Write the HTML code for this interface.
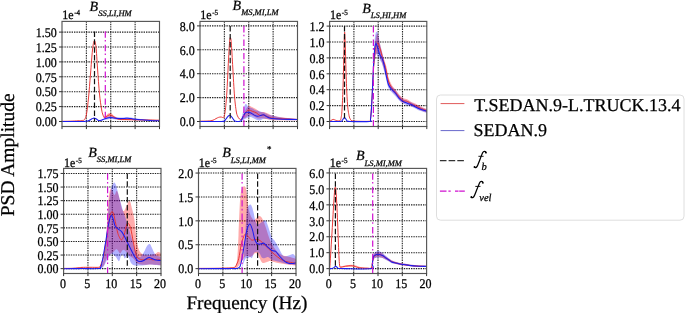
<!DOCTYPE html><html><head><meta charset="utf-8"><style>html,body{margin:0;padding:0;background:#fff;width:685px;height:313px;overflow:hidden}svg{display:block;will-change:transform}</style></head><body><svg width="685" height="313" viewBox="0 0 685 313">
<style>
.g{stroke:#222;stroke-width:1.1;stroke-dasharray:1.4 1.0;fill:none}
.sp{fill:none;stroke:#555;stroke-width:1.15}
.tk{stroke:#333;stroke-width:1}
text{font-family:'Liberation Serif',serif;fill:#000;stroke:#000;stroke-width:0.25px;text-rendering:geometricPrecision}
.tl{font-size:12px}
.sup{font-size:7.1px}
.ti{font-size:14px;font-style:italic}
.sub{font-size:8.5px}
.star{font-size:9px;font-style:normal}
.rl{fill:none;stroke:#e83030;stroke-width:0.95;stroke-linejoin:round}
.bl{fill:none;stroke:#1c1cee;stroke-width:1.05;stroke-linejoin:round}
.rb{fill:#ff0000;fill-opacity:0.33;stroke:none}
.bb{fill:#0000ff;fill-opacity:0.3;stroke:none}
.vb{stroke:#111;stroke-width:1.2;stroke-dasharray:5.5 2.4}
.vm{stroke:#d010d0;stroke-width:1.2;stroke-dasharray:6.4 2.2 1.6 3.2}
</style>
<rect width="685" height="313" fill="#fff"/>
<line x1="86.38" y1="21.40" x2="86.38" y2="126.50" class="g"/>
<line x1="110.75" y1="21.40" x2="110.75" y2="126.50" class="g"/>
<line x1="135.12" y1="21.40" x2="135.12" y2="126.50" class="g"/>
<line x1="62.00" y1="121.50" x2="159.50" y2="121.50" class="g"/>
<line x1="62.00" y1="106.60" x2="159.50" y2="106.60" class="g"/>
<line x1="62.00" y1="91.70" x2="159.50" y2="91.70" class="g"/>
<line x1="62.00" y1="76.80" x2="159.50" y2="76.80" class="g"/>
<line x1="62.00" y1="61.90" x2="159.50" y2="61.90" class="g"/>
<line x1="62.00" y1="47.00" x2="159.50" y2="47.00" class="g"/>
<line x1="62.00" y1="32.10" x2="159.50" y2="32.10" class="g"/>
<line x1="224.38" y1="21.40" x2="224.38" y2="126.50" class="g"/>
<line x1="248.75" y1="21.40" x2="248.75" y2="126.50" class="g"/>
<line x1="273.12" y1="21.40" x2="273.12" y2="126.50" class="g"/>
<line x1="200.00" y1="121.50" x2="297.50" y2="121.50" class="g"/>
<line x1="200.00" y1="97.60" x2="297.50" y2="97.60" class="g"/>
<line x1="200.00" y1="73.70" x2="297.50" y2="73.70" class="g"/>
<line x1="200.00" y1="49.80" x2="297.50" y2="49.80" class="g"/>
<line x1="200.00" y1="25.90" x2="297.50" y2="25.90" class="g"/>
<line x1="353.90" y1="21.40" x2="353.90" y2="126.50" class="g"/>
<line x1="378.20" y1="21.40" x2="378.20" y2="126.50" class="g"/>
<line x1="402.50" y1="21.40" x2="402.50" y2="126.50" class="g"/>
<line x1="329.60" y1="121.50" x2="426.80" y2="121.50" class="g"/>
<line x1="329.60" y1="105.60" x2="426.80" y2="105.60" class="g"/>
<line x1="329.60" y1="89.70" x2="426.80" y2="89.70" class="g"/>
<line x1="329.60" y1="73.80" x2="426.80" y2="73.80" class="g"/>
<line x1="329.60" y1="57.90" x2="426.80" y2="57.90" class="g"/>
<line x1="329.60" y1="42.00" x2="426.80" y2="42.00" class="g"/>
<line x1="329.60" y1="26.10" x2="426.80" y2="26.10" class="g"/>
<line x1="87.95" y1="168.40" x2="87.95" y2="273.50" class="g"/>
<line x1="112.30" y1="168.40" x2="112.30" y2="273.50" class="g"/>
<line x1="136.65" y1="168.40" x2="136.65" y2="273.50" class="g"/>
<line x1="63.60" y1="268.65" x2="161.00" y2="268.65" class="g"/>
<line x1="63.60" y1="255.05" x2="161.00" y2="255.05" class="g"/>
<line x1="63.60" y1="241.45" x2="161.00" y2="241.45" class="g"/>
<line x1="63.60" y1="227.85" x2="161.00" y2="227.85" class="g"/>
<line x1="63.60" y1="214.25" x2="161.00" y2="214.25" class="g"/>
<line x1="63.60" y1="200.65" x2="161.00" y2="200.65" class="g"/>
<line x1="63.60" y1="187.05" x2="161.00" y2="187.05" class="g"/>
<line x1="63.60" y1="173.45" x2="161.00" y2="173.45" class="g"/>
<line x1="222.88" y1="168.40" x2="222.88" y2="273.50" class="g"/>
<line x1="247.25" y1="168.40" x2="247.25" y2="273.50" class="g"/>
<line x1="271.62" y1="168.40" x2="271.62" y2="273.50" class="g"/>
<line x1="198.50" y1="268.65" x2="296.00" y2="268.65" class="g"/>
<line x1="198.50" y1="244.75" x2="296.00" y2="244.75" class="g"/>
<line x1="198.50" y1="220.85" x2="296.00" y2="220.85" class="g"/>
<line x1="198.50" y1="196.95" x2="296.00" y2="196.95" class="g"/>
<line x1="198.50" y1="173.05" x2="296.00" y2="173.05" class="g"/>
<line x1="353.70" y1="168.40" x2="353.70" y2="273.50" class="g"/>
<line x1="378.00" y1="168.40" x2="378.00" y2="273.50" class="g"/>
<line x1="402.30" y1="168.40" x2="402.30" y2="273.50" class="g"/>
<line x1="329.40" y1="268.65" x2="426.60" y2="268.65" class="g"/>
<line x1="329.40" y1="252.70" x2="426.60" y2="252.70" class="g"/>
<line x1="329.40" y1="236.75" x2="426.60" y2="236.75" class="g"/>
<line x1="329.40" y1="220.80" x2="426.60" y2="220.80" class="g"/>
<line x1="329.40" y1="204.85" x2="426.60" y2="204.85" class="g"/>
<line x1="329.40" y1="188.90" x2="426.60" y2="188.90" class="g"/>
<line x1="329.40" y1="172.95" x2="426.60" y2="172.95" class="g"/>
<path d="M103.00,117.00 C103.50,116.75 105.17,116.08 106.00,115.50 C106.83,114.92 107.33,113.92 108.00,113.50 C108.67,113.08 109.33,112.92 110.00,113.00 C110.67,113.08 111.17,113.42 112.00,114.00 C112.83,114.58 113.83,115.78 115.00,116.50 C116.17,117.22 117.33,117.88 119.00,118.30 C120.67,118.72 121.50,118.83 125.00,119.00 C128.50,119.17 134.25,119.17 140.00,119.30 C145.75,119.43 156.25,119.72 159.50,119.80 L159.50,120.60 C156.25,120.55 145.75,120.37 140.00,120.30 C134.25,120.23 128.50,120.25 125.00,120.20 C121.50,120.15 120.67,120.20 119.00,120.00 C117.33,119.80 116.17,119.42 115.00,119.00 C113.83,118.58 112.83,117.83 112.00,117.50 C111.17,117.17 110.67,116.95 110.00,117.00 C109.33,117.05 108.67,117.58 108.00,117.80 C107.33,118.02 106.83,118.35 106.00,118.30 C105.17,118.25 103.50,117.63 103.00,117.50 Z" class="rb"/>
<path d="M101.00,120.00 C101.50,119.75 103.00,119.00 104.00,118.50 C105.00,118.00 106.00,117.37 107.00,117.00 C108.00,116.63 108.83,116.33 110.00,116.30 C111.17,116.27 112.67,116.63 114.00,116.80 C115.33,116.97 116.67,117.18 118.00,117.30 C119.33,117.42 120.50,117.55 122.00,117.50 C123.50,117.45 125.50,117.00 127.00,117.00 C128.50,117.00 129.50,117.25 131.00,117.50 C132.50,117.75 134.17,118.22 136.00,118.50 C137.83,118.78 139.67,118.98 142.00,119.20 C144.33,119.42 147.08,119.62 150.00,119.80 C152.92,119.98 157.92,120.22 159.50,120.30 L159.50,121.10 C157.92,121.05 152.92,120.90 150.00,120.80 C147.08,120.70 144.33,120.60 142.00,120.50 C139.67,120.40 137.83,120.32 136.00,120.20 C134.17,120.08 132.50,119.90 131.00,119.80 C129.50,119.70 128.50,119.60 127.00,119.60 C125.50,119.60 123.50,119.80 122.00,119.80 C120.50,119.80 119.33,119.68 118.00,119.60 C116.67,119.52 115.33,119.40 114.00,119.30 C112.67,119.20 111.17,118.97 110.00,119.00 C108.83,119.03 108.00,119.33 107.00,119.50 C106.00,119.67 105.00,119.83 104.00,120.00 C103.00,120.17 101.50,120.42 101.00,120.50 Z" class="bb"/>
<path d="M62.00,121.30 C63.33,121.28 67.33,121.28 70.00,121.20 C72.67,121.12 76.00,120.92 78.00,120.80 C80.00,120.68 80.92,120.70 82.00,120.50 C83.08,120.30 83.75,120.68 84.50,119.60 C85.25,118.52 85.83,117.60 86.50,114.00 C87.17,110.40 87.83,104.67 88.50,98.00 C89.17,91.33 89.83,82.00 90.50,74.00 C91.17,66.00 91.87,55.55 92.50,50.00 C93.13,44.45 93.72,41.20 94.30,40.70 C94.88,40.20 95.47,42.45 96.00,47.00 C96.53,51.55 96.92,60.17 97.50,68.00 C98.08,75.83 98.83,87.17 99.50,94.00 C100.17,100.83 100.92,105.50 101.50,109.00 C102.08,112.50 102.53,113.62 103.00,115.00 C103.47,116.38 103.80,116.97 104.30,117.30 C104.80,117.63 105.38,117.30 106.00,117.00 C106.62,116.70 107.33,115.87 108.00,115.50 C108.67,115.13 109.33,114.78 110.00,114.80 C110.67,114.82 111.17,115.13 112.00,115.60 C112.83,116.07 114.00,117.03 115.00,117.60 C116.00,118.17 116.83,118.70 118.00,119.00 C119.17,119.30 120.33,119.30 122.00,119.40 C123.67,119.50 125.83,119.53 128.00,119.60 C130.17,119.67 132.17,119.73 135.00,119.80 C137.83,119.87 140.92,119.92 145.00,120.00 C149.08,120.08 157.08,120.25 159.50,120.30" class="rl"/>
<path d="M62.00,121.40 C65.00,121.40 76.00,121.43 80.00,121.40 C84.00,121.37 84.50,121.35 86.00,121.20 C87.50,121.05 88.00,120.90 89.00,120.50 C90.00,120.10 91.17,119.20 92.00,118.80 C92.83,118.40 93.33,118.10 94.00,118.10 C94.67,118.10 95.33,118.45 96.00,118.80 C96.67,119.15 97.42,119.92 98.00,120.20 C98.58,120.48 99.00,120.48 99.50,120.50 C100.00,120.52 100.42,120.47 101.00,120.30 C101.58,120.13 102.17,119.80 103.00,119.50 C103.83,119.20 104.83,118.82 106.00,118.50 C107.17,118.18 108.67,117.68 110.00,117.60 C111.33,117.52 112.67,117.85 114.00,118.00 C115.33,118.15 116.67,118.40 118.00,118.50 C119.33,118.60 120.50,118.65 122.00,118.60 C123.50,118.55 125.50,118.20 127.00,118.20 C128.50,118.20 129.50,118.42 131.00,118.60 C132.50,118.78 134.17,119.10 136.00,119.30 C137.83,119.50 139.67,119.62 142.00,119.80 C144.33,119.98 147.08,120.23 150.00,120.40 C152.92,120.57 157.92,120.73 159.50,120.80" class="bl"/>
<line x1="94.50" y1="31.40" x2="94.50" y2="121.50" class="vb"/>
<line x1="105.30" y1="31.40" x2="105.30" y2="118.00" class="vm"/>
<path d="M241.00,120.00 C241.33,119.33 242.17,117.83 243.00,116.00 C243.83,114.17 244.93,110.67 246.00,109.00 C247.07,107.33 248.40,106.33 249.40,106.00 C250.40,105.67 251.07,106.58 252.00,107.00 C252.93,107.42 254.00,107.92 255.00,108.50 C256.00,109.08 257.17,109.92 258.00,110.50 C258.83,111.08 259.00,111.75 260.00,112.00 C261.00,112.25 262.67,111.75 264.00,112.00 C265.33,112.25 266.67,112.92 268.00,113.50 C269.33,114.08 270.00,114.92 272.00,115.50 C274.00,116.08 277.00,116.55 280.00,117.00 C283.00,117.45 287.08,117.90 290.00,118.20 C292.92,118.50 296.25,118.70 297.50,118.80 L297.50,120.30 C294.58,120.30 284.25,120.35 280.00,120.30 C275.75,120.25 274.33,120.22 272.00,120.00 C269.67,119.78 267.67,119.30 266.00,119.00 C264.33,118.70 263.33,118.28 262.00,118.20 C260.67,118.12 259.17,118.70 258.00,118.50 C256.83,118.30 256.00,117.50 255.00,117.00 C254.00,116.50 252.93,115.83 252.00,115.50 C251.07,115.17 250.40,114.67 249.40,115.00 C248.40,115.33 247.07,116.83 246.00,117.50 C244.93,118.17 243.83,118.50 243.00,119.00 C242.17,119.50 241.33,120.25 241.00,120.50 Z" class="rb"/>
<path d="M240.50,121.00 C240.83,119.83 241.83,116.50 242.50,114.00 C243.17,111.50 243.92,107.65 244.50,106.00 C245.08,104.35 245.42,104.02 246.00,104.10 C246.58,104.18 247.33,105.93 248.00,106.50 C248.67,107.07 249.22,107.18 250.00,107.50 C250.78,107.82 251.87,107.98 252.70,108.40 C253.53,108.82 254.12,109.60 255.00,110.00 C255.88,110.40 256.67,110.42 258.00,110.80 C259.33,111.18 261.67,111.85 263.00,112.30 C264.33,112.75 264.83,113.03 266.00,113.50 C267.17,113.97 267.67,114.47 270.00,115.10 C272.33,115.73 276.67,116.73 280.00,117.30 C283.33,117.87 287.08,118.22 290.00,118.50 C292.92,118.78 296.25,118.92 297.50,119.00 L297.50,120.30 C294.58,120.25 284.58,120.13 280.00,120.00 C275.42,119.87 272.33,119.70 270.00,119.50 C267.67,119.30 267.17,118.88 266.00,118.80 C264.83,118.72 264.00,118.73 263.00,119.00 C262.00,119.27 261.00,120.23 260.00,120.40 C259.00,120.57 258.00,120.32 257.00,120.00 C256.00,119.68 255.00,119.00 254.00,118.50 C253.00,118.00 252.00,117.17 251.00,117.00 C250.00,116.83 249.00,117.17 248.00,117.50 C247.00,117.83 245.92,118.50 245.00,119.00 C244.08,119.50 243.25,120.13 242.50,120.50 C241.75,120.87 240.83,121.08 240.50,121.20 Z" class="bb"/>
<path d="M200.00,121.20 C201.33,121.17 205.83,121.17 208.00,121.00 C210.17,120.83 211.67,120.60 213.00,120.20 C214.33,119.80 215.08,119.07 216.00,118.60 C216.92,118.13 217.67,117.67 218.50,117.40 C219.33,117.13 220.17,116.97 221.00,117.00 C221.83,117.03 222.92,117.93 223.50,117.60 C224.08,117.27 224.17,116.43 224.50,115.00 C224.83,113.57 225.08,113.17 225.50,109.00 C225.92,104.83 226.50,98.17 227.00,90.00 C227.50,81.83 228.07,68.00 228.50,60.00 C228.93,52.00 229.30,45.73 229.60,42.00 C229.90,38.27 230.02,37.43 230.30,37.60 C230.58,37.77 230.88,37.93 231.30,43.00 C231.72,48.07 232.27,59.17 232.80,68.00 C233.33,76.83 233.93,88.83 234.50,96.00 C235.07,103.17 235.70,107.67 236.20,111.00 C236.70,114.33 236.95,114.67 237.50,116.00 C238.05,117.33 238.88,118.43 239.50,119.00 C240.12,119.57 240.65,119.70 241.20,119.40 C241.75,119.10 242.23,118.15 242.80,117.20 C243.37,116.25 243.93,114.70 244.60,113.70 C245.27,112.70 246.08,111.83 246.80,111.20 C247.52,110.57 247.98,109.88 248.90,109.90 C249.82,109.92 251.10,110.83 252.30,111.30 C253.50,111.77 254.83,112.02 256.10,112.70 C257.37,113.38 258.62,115.00 259.90,115.40 C261.18,115.80 262.52,114.90 263.80,115.10 C265.08,115.30 266.33,116.12 267.60,116.60 C268.87,117.08 269.65,117.68 271.40,118.00 C273.15,118.32 275.38,118.33 278.10,118.50 C280.82,118.67 284.47,118.83 287.70,119.00 C290.93,119.17 295.87,119.42 297.50,119.50" class="rl"/>
<path d="M200.00,121.40 C203.67,121.40 218.00,121.43 222.00,121.40 C226.00,121.37 223.33,121.60 224.00,121.20 C224.67,120.80 225.33,119.82 226.00,119.00 C226.67,118.18 227.33,116.93 228.00,116.30 C228.67,115.67 229.33,115.03 230.00,115.20 C230.67,115.37 231.33,116.47 232.00,117.30 C232.67,118.13 233.42,119.53 234.00,120.20 C234.58,120.87 234.50,121.13 235.50,121.30 C236.50,121.47 239.05,121.33 240.00,121.20 C240.95,121.07 240.75,121.12 241.20,120.50 C241.65,119.88 241.98,118.80 242.70,117.50 C243.42,116.20 244.55,113.57 245.50,112.70 C246.45,111.83 247.43,112.22 248.40,112.30 C249.37,112.38 250.33,112.73 251.30,113.20 C252.27,113.67 253.17,114.58 254.20,115.10 C255.23,115.62 256.47,116.22 257.50,116.30 C258.53,116.38 259.43,115.87 260.40,115.60 C261.37,115.33 262.27,114.53 263.30,114.70 C264.33,114.87 265.57,116.05 266.60,116.60 C267.63,117.15 268.05,117.63 269.50,118.00 C270.95,118.37 273.05,118.60 275.30,118.80 C277.55,119.00 279.30,119.07 283.00,119.20 C286.70,119.33 295.08,119.53 297.50,119.60" class="bl"/>
<line x1="230.20" y1="26.10" x2="230.20" y2="121.50" class="vb"/>
<line x1="243.90" y1="26.10" x2="243.90" y2="126.50" class="vm"/>
<path d="M370.00,121.00 C370.42,115.50 371.88,97.83 372.50,88.00 C373.12,78.17 373.28,69.33 373.70,62.00 C374.12,54.67 374.53,48.50 375.00,44.00 C375.47,39.50 376.08,36.67 376.50,35.00 C376.92,33.33 377.17,33.67 377.50,34.00 C377.83,34.33 378.08,35.33 378.50,37.00 C378.92,38.67 379.50,41.83 380.00,44.00 C380.50,46.17 381.00,48.00 381.50,50.00 C382.00,52.00 382.17,53.17 383.00,56.00 C383.83,58.83 385.60,63.50 386.50,67.00 C387.40,70.50 387.57,74.08 388.40,77.00 C389.23,79.92 390.35,82.42 391.50,84.50 C392.65,86.58 394.02,87.83 395.30,89.50 C396.58,91.17 397.92,93.08 399.20,94.50 C400.48,95.92 401.60,97.17 403.00,98.00 C404.40,98.83 406.20,98.83 407.60,99.50 C409.00,100.17 410.12,101.33 411.40,102.00 C412.68,102.67 413.88,102.83 415.30,103.50 C416.72,104.17 417.98,105.08 419.90,106.00 C421.82,106.92 425.65,108.50 426.80,109.00 L426.80,112.50 C425.65,112.08 421.82,110.83 419.90,110.00 C417.98,109.17 416.72,108.17 415.30,107.50 C413.88,106.83 412.68,106.67 411.40,106.00 C410.12,105.33 409.00,104.00 407.60,103.50 C406.20,103.00 404.40,103.67 403.00,103.00 C401.60,102.33 400.48,100.92 399.20,99.50 C397.92,98.08 396.58,96.00 395.30,94.50 C394.02,93.00 392.65,92.08 391.50,90.50 C390.35,88.92 389.23,87.25 388.40,85.00 C387.57,82.75 387.40,80.17 386.50,77.00 C385.60,73.83 383.92,68.83 383.00,66.00 C382.08,63.17 381.62,61.83 381.00,60.00 C380.38,58.17 379.80,56.17 379.30,55.00 C378.80,53.83 378.47,53.17 378.00,53.00 C377.53,52.83 377.00,52.83 376.50,54.00 C376.00,55.17 375.47,57.00 375.00,60.00 C374.53,63.00 374.12,66.67 373.70,72.00 C373.28,77.33 373.12,83.77 372.50,92.00 C371.88,100.23 370.42,116.50 370.00,121.40 Z" class="rb"/>
<path d="M370.00,121.00 C370.25,118.50 371.08,111.83 371.50,106.00 C371.92,100.17 372.17,93.67 372.50,86.00 C372.83,78.33 373.17,67.33 373.50,60.00 C373.83,52.67 374.17,46.33 374.50,42.00 C374.83,37.67 375.17,35.70 375.50,34.00 C375.83,32.30 376.17,32.05 376.50,31.80 C376.83,31.55 377.17,31.80 377.50,32.50 C377.83,33.20 378.08,34.08 378.50,36.00 C378.92,37.92 379.50,41.67 380.00,44.00 C380.50,46.33 380.95,47.83 381.50,50.00 C382.05,52.17 382.53,53.83 383.30,57.00 C384.07,60.17 385.25,65.17 386.10,69.00 C386.95,72.83 387.50,77.17 388.40,80.00 C389.30,82.83 390.35,84.33 391.50,86.00 C392.65,87.67 394.02,88.42 395.30,90.00 C396.58,91.58 397.92,94.00 399.20,95.50 C400.48,97.00 401.60,98.08 403.00,99.00 C404.40,99.92 406.20,100.42 407.60,101.00 C409.00,101.58 410.12,101.92 411.40,102.50 C412.68,103.08 413.88,103.75 415.30,104.50 C416.72,105.25 417.98,106.17 419.90,107.00 C421.82,107.83 425.65,109.08 426.80,109.50 L426.80,113.00 C425.65,112.63 421.82,111.55 419.90,110.80 C417.98,110.05 416.72,109.22 415.30,108.50 C413.88,107.78 412.68,107.00 411.40,106.50 C410.12,106.00 409.00,106.00 407.60,105.50 C406.20,105.00 404.40,104.33 403.00,103.50 C401.60,102.67 400.48,101.75 399.20,100.50 C397.92,99.25 396.58,97.42 395.30,96.00 C394.02,94.58 392.65,93.33 391.50,92.00 C390.35,90.67 389.30,90.17 388.40,88.00 C387.50,85.83 386.95,82.33 386.10,79.00 C385.25,75.67 384.02,70.67 383.30,68.00 C382.58,65.33 382.27,64.17 381.80,63.00 C381.33,61.83 380.97,61.83 380.50,61.00 C380.03,60.17 379.53,59.00 379.00,58.00 C378.47,57.00 377.83,55.67 377.30,55.00 C376.77,54.33 376.25,53.17 375.80,54.00 C375.35,54.83 374.98,56.67 374.60,60.00 C374.22,63.33 373.85,68.00 373.50,74.00 C373.15,80.00 372.83,89.67 372.50,96.00 C372.17,102.33 371.92,107.77 371.50,112.00 C371.08,116.23 370.25,119.83 370.00,121.40 Z" class="bb"/>
<path d="M329.60,121.20 C329.83,121.08 330.40,120.80 331.00,120.50 C331.60,120.20 332.45,119.45 333.20,119.40 C333.95,119.35 334.70,119.93 335.50,120.20 C336.30,120.47 337.25,120.93 338.00,121.00 C338.75,121.07 339.50,121.02 340.00,120.60 C340.50,120.18 340.67,120.27 341.00,118.50 C341.33,116.73 341.67,115.08 342.00,110.00 C342.33,104.92 342.70,96.67 343.00,88.00 C343.30,79.33 343.53,67.28 343.80,58.00 C344.07,48.72 344.33,33.63 344.60,32.30 C344.87,30.97 345.12,42.05 345.40,50.00 C345.68,57.95 345.95,71.00 346.30,80.00 C346.65,89.00 347.05,98.08 347.50,104.00 C347.95,109.92 348.50,112.92 349.00,115.50 C349.50,118.08 350.00,118.62 350.50,119.50 C351.00,120.38 351.08,120.52 352.00,120.80 C352.92,121.08 353.08,121.13 356.00,121.20 C358.92,121.27 367.08,121.57 369.50,121.20 C371.92,120.83 370.17,121.37 370.50,119.00 C370.83,116.63 371.17,112.00 371.50,107.00 C371.83,102.00 372.13,95.83 372.50,89.00 C372.87,82.17 373.28,72.17 373.70,66.00 C374.12,59.83 374.53,55.50 375.00,52.00 C375.47,48.50 376.00,46.50 376.50,45.00 C377.00,43.50 377.53,42.78 378.00,43.00 C378.47,43.22 378.80,44.80 379.30,46.30 C379.80,47.80 380.38,49.72 381.00,52.00 C381.62,54.28 382.42,58.00 383.00,60.00 C383.58,62.00 383.92,62.00 384.50,64.00 C385.08,66.00 385.85,69.17 386.50,72.00 C387.15,74.83 387.57,78.42 388.40,81.00 C389.23,83.58 390.35,85.67 391.50,87.50 C392.65,89.33 394.02,90.42 395.30,92.00 C396.58,93.58 397.92,95.58 399.20,97.00 C400.48,98.42 401.95,99.83 403.00,100.50 C404.05,101.17 404.73,100.83 405.50,101.00 C406.27,101.17 406.62,101.00 407.60,101.50 C408.58,102.00 410.12,103.33 411.40,104.00 C412.68,104.67 413.88,104.83 415.30,105.50 C416.72,106.17 418.62,107.38 419.90,108.00 C421.18,108.62 421.85,108.73 423.00,109.20 C424.15,109.67 426.17,110.53 426.80,110.80" class="rl"/>
<path d="M329.60,121.40 C331.33,121.40 337.93,121.50 340.00,121.40 C342.07,121.30 341.25,121.47 342.00,120.80 C342.75,120.13 343.67,117.40 344.50,117.40 C345.33,117.40 346.08,120.13 347.00,120.80 C347.92,121.47 346.25,121.30 350.00,121.40 C353.75,121.50 366.08,121.72 369.50,121.40 C372.92,121.08 370.17,121.73 370.50,119.50 C370.83,117.27 371.17,113.25 371.50,108.00 C371.83,102.75 372.17,95.00 372.50,88.00 C372.83,81.00 373.15,72.33 373.50,66.00 C373.85,59.67 374.22,53.75 374.60,50.00 C374.98,46.25 375.35,44.08 375.80,43.50 C376.25,42.92 376.77,45.00 377.30,46.50 C377.83,48.00 378.47,50.92 379.00,52.50 C379.53,54.08 380.03,55.17 380.50,56.00 C380.97,56.83 381.33,56.50 381.80,57.50 C382.27,58.50 382.80,60.25 383.30,62.00 C383.80,63.75 384.33,65.83 384.80,68.00 C385.27,70.17 385.50,72.25 386.10,75.00 C386.70,77.75 387.50,82.13 388.40,84.50 C389.30,86.87 390.35,87.78 391.50,89.20 C392.65,90.62 394.02,91.47 395.30,93.00 C396.58,94.53 397.92,97.00 399.20,98.40 C400.48,99.80 401.60,100.57 403.00,101.40 C404.40,102.23 406.20,102.88 407.60,103.40 C409.00,103.92 410.12,103.93 411.40,104.50 C412.68,105.07 413.88,106.03 415.30,106.80 C416.72,107.57 417.98,108.35 419.90,109.10 C421.82,109.85 425.65,110.93 426.80,111.30" class="bl"/>
<line x1="344.50" y1="26.10" x2="344.50" y2="121.50" class="vb"/>
<line x1="373.40" y1="26.10" x2="373.40" y2="126.50" class="vm"/>
<path d="M99.00,267.50 C99.42,267.08 100.67,266.58 101.50,265.00 C102.33,263.42 103.25,262.17 104.00,258.00 C104.75,253.83 105.42,247.17 106.00,240.00 C106.58,232.83 107.03,222.17 107.50,215.00 C107.97,207.83 108.32,201.33 108.80,197.00 C109.28,192.67 109.87,190.17 110.40,189.00 C110.93,187.83 111.32,189.00 112.00,190.00 C112.68,191.00 113.72,194.88 114.50,195.00 C115.28,195.12 116.03,190.70 116.70,190.70 C117.37,190.70 117.87,192.95 118.50,195.00 C119.13,197.05 119.92,200.67 120.50,203.00 C121.08,205.33 121.42,207.67 122.00,209.00 C122.58,210.33 123.27,211.45 124.00,211.00 C124.73,210.55 125.47,208.00 126.40,206.30 C127.33,204.60 128.67,200.40 129.60,200.80 C130.53,201.20 131.22,205.65 132.00,208.70 C132.78,211.75 133.63,214.72 134.30,219.10 C134.97,223.48 135.38,230.35 136.00,235.00 C136.62,239.65 137.17,244.00 138.00,247.00 C138.83,250.00 139.83,251.67 141.00,253.00 C142.17,254.33 143.50,254.67 145.00,255.00 C146.50,255.33 148.33,255.17 150.00,255.00 C151.67,254.83 153.67,254.50 155.00,254.00 C156.33,253.50 157.00,252.17 158.00,252.00 C159.00,251.83 160.50,252.83 161.00,253.00 L161.00,265.50 C160.00,265.38 156.83,264.97 155.00,264.80 C153.17,264.63 152.17,264.50 150.00,264.50 C147.83,264.50 144.17,265.05 142.00,264.80 C139.83,264.55 138.35,263.97 137.00,263.00 C135.65,262.03 135.18,260.23 133.90,259.00 C132.62,257.77 130.63,256.85 129.30,255.60 C127.97,254.35 126.95,252.47 125.90,251.50 C124.85,250.53 123.97,249.50 123.00,249.80 C122.03,250.10 121.15,253.40 120.10,253.30 C119.05,253.20 117.85,249.40 116.70,249.20 C115.55,249.00 114.55,251.03 113.20,252.10 C111.85,253.17 109.80,254.28 108.60,255.60 C107.40,256.92 106.77,258.43 106.00,260.00 C105.23,261.57 104.75,263.75 104.00,265.00 C103.25,266.25 102.33,267.00 101.50,267.50 C100.67,268.00 99.42,267.92 99.00,268.00 Z" class="rb"/>
<path d="M99.00,268.50 C99.42,268.08 100.67,268.08 101.50,266.00 C102.33,263.92 103.25,260.33 104.00,256.00 C104.75,251.67 105.42,245.67 106.00,240.00 C106.58,234.33 107.00,228.17 107.50,222.00 C108.00,215.83 108.50,208.00 109.00,203.00 C109.50,198.00 110.00,194.83 110.50,192.00 C111.00,189.17 111.40,187.60 112.00,186.00 C112.60,184.40 113.43,182.57 114.10,182.40 C114.77,182.23 115.42,183.57 116.00,185.00 C116.58,186.43 116.93,188.50 117.60,191.00 C118.27,193.50 119.20,197.05 120.00,200.00 C120.80,202.95 121.47,205.65 122.40,208.70 C123.33,211.75 124.67,215.42 125.60,218.30 C126.53,221.18 127.10,223.05 128.00,226.00 C128.90,228.95 130.00,232.67 131.00,236.00 C132.00,239.33 133.00,243.00 134.00,246.00 C135.00,249.00 136.00,252.17 137.00,254.00 C138.00,255.83 138.83,257.33 140.00,257.00 C141.17,256.67 142.83,253.83 144.00,252.00 C145.17,250.17 146.03,247.33 147.00,246.00 C147.97,244.67 148.97,243.67 149.80,244.00 C150.63,244.33 151.13,246.33 152.00,248.00 C152.87,249.67 154.00,252.67 155.00,254.00 C156.00,255.33 157.00,255.50 158.00,256.00 C159.00,256.50 160.50,256.83 161.00,257.00 L161.00,265.20 C160.00,265.17 156.83,265.12 155.00,265.00 C153.17,264.88 151.50,264.50 150.00,264.50 C148.50,264.50 147.33,264.83 146.00,265.00 C144.67,265.17 143.50,265.42 142.00,265.50 C140.50,265.58 138.33,265.53 137.00,265.50 C135.67,265.47 135.00,265.72 134.00,265.30 C133.00,264.88 131.83,264.22 131.00,263.00 C130.17,261.78 129.67,259.17 129.00,258.00 C128.33,256.83 127.72,255.93 127.00,256.00 C126.28,256.07 125.37,258.57 124.70,258.40 C124.03,258.23 123.62,255.40 123.00,255.00 C122.38,254.60 121.67,254.95 121.00,256.00 C120.33,257.05 119.83,261.13 119.00,261.30 C118.17,261.47 117.00,258.13 116.00,257.00 C115.00,255.87 113.85,255.00 113.00,254.50 C112.15,254.00 111.73,253.42 110.90,254.00 C110.07,254.58 108.82,256.67 108.00,258.00 C107.18,259.33 106.67,260.67 106.00,262.00 C105.33,263.33 104.75,264.95 104.00,266.00 C103.25,267.05 102.33,267.87 101.50,268.30 C100.67,268.73 99.42,268.55 99.00,268.60 Z" class="bb"/>
<path d="M63.60,268.40 C65.00,268.38 69.60,268.40 72.00,268.30 C74.40,268.20 76.33,267.95 78.00,267.80 C79.67,267.65 80.00,267.48 82.00,267.40 C84.00,267.32 87.20,267.32 90.00,267.30 C92.80,267.28 97.08,267.52 98.80,267.30 C100.52,267.08 99.70,267.15 100.30,266.00 C100.90,264.85 101.80,262.18 102.40,260.40 C103.00,258.62 103.40,257.68 103.90,255.30 C104.40,252.92 104.95,248.82 105.40,246.10 C105.85,243.38 106.13,242.35 106.60,239.00 C107.07,235.65 107.63,229.83 108.20,226.00 C108.77,222.17 109.40,218.38 110.00,216.00 C110.60,213.62 111.22,212.03 111.80,211.70 C112.38,211.37 112.83,211.95 113.50,214.00 C114.17,216.05 115.13,221.00 115.80,224.00 C116.47,227.00 116.95,229.90 117.50,232.00 C118.05,234.10 118.42,235.28 119.10,236.60 C119.78,237.92 120.77,240.17 121.60,239.90 C122.43,239.63 123.27,237.48 124.10,235.00 C124.93,232.52 125.92,226.95 126.60,225.00 C127.28,223.05 127.52,222.75 128.20,223.30 C128.88,223.85 129.87,225.25 130.70,228.30 C131.53,231.35 132.37,237.45 133.20,241.60 C134.03,245.75 134.87,250.43 135.70,253.20 C136.53,255.97 136.95,257.08 138.20,258.20 C139.45,259.32 141.53,259.77 143.20,259.90 C144.87,260.03 146.53,259.00 148.20,259.00 C149.87,259.00 151.68,259.85 153.20,259.90 C154.72,259.95 156.00,259.30 157.30,259.30 C158.60,259.30 160.38,259.80 161.00,259.90" class="rl"/>
<path d="M63.60,268.65 C66.33,268.64 74.13,268.61 80.00,268.60 C85.87,268.59 95.38,268.73 98.80,268.60 C102.22,268.47 99.98,268.73 100.50,267.80 C101.02,266.87 101.42,265.08 101.90,263.00 C102.38,260.92 102.90,258.12 103.40,255.30 C103.90,252.48 104.47,248.65 104.90,246.10 C105.33,243.55 105.57,242.68 106.00,240.00 C106.43,237.32 106.98,233.05 107.50,230.00 C108.02,226.95 108.52,224.08 109.10,221.70 C109.68,219.32 110.35,216.23 111.00,215.70 C111.65,215.17 112.33,216.82 113.00,218.50 C113.67,220.18 114.12,224.03 115.00,225.80 C115.88,227.57 117.20,228.13 118.30,229.10 C119.40,230.07 120.63,230.48 121.60,231.60 C122.57,232.72 123.13,234.00 124.10,235.80 C125.07,237.60 126.30,240.18 127.40,242.40 C128.50,244.62 129.58,246.88 130.70,249.10 C131.82,251.32 132.98,253.77 134.10,255.70 C135.22,257.63 136.42,259.73 137.40,260.70 C138.38,261.67 139.03,261.50 140.00,261.50 C140.97,261.50 142.20,261.12 143.20,260.70 C144.20,260.28 145.03,259.55 146.00,259.00 C146.97,258.45 147.80,257.40 149.00,257.40 C150.20,257.40 152.03,258.57 153.20,259.00 C154.37,259.43 154.90,259.77 156.00,260.00 C157.10,260.23 158.97,260.33 159.80,260.40 C160.63,260.47 160.80,260.40 161.00,260.40" class="bl"/>
<line x1="127.30" y1="173.40" x2="127.30" y2="268.65" class="vb"/>
<line x1="107.60" y1="173.40" x2="107.60" y2="273.50" class="vm"/>
<path d="M233.00,268.50 C233.50,268.08 235.25,268.25 236.00,266.00 C236.75,263.75 237.08,260.17 237.50,255.00 C237.92,249.83 238.17,242.50 238.50,235.00 C238.83,227.50 239.17,216.67 239.50,210.00 C239.83,203.33 240.08,198.67 240.50,195.00 C240.92,191.33 241.50,189.42 242.00,188.00 C242.50,186.58 243.03,186.77 243.50,186.50 C243.97,186.23 244.38,185.98 244.80,186.40 C245.22,186.82 245.63,187.40 246.00,189.00 C246.37,190.60 246.67,193.17 247.00,196.00 C247.33,198.83 247.50,203.00 248.00,206.00 C248.50,209.00 249.33,212.00 250.00,214.00 C250.67,216.00 251.33,217.00 252.00,218.00 C252.67,219.00 253.20,220.10 254.00,220.00 C254.80,219.90 256.05,218.07 256.80,217.40 C257.55,216.73 257.83,216.13 258.50,216.00 C259.17,215.87 260.02,215.83 260.80,216.60 C261.58,217.37 262.33,218.70 263.20,220.60 C264.07,222.50 264.87,224.77 266.00,228.00 C267.13,231.23 268.50,236.50 270.00,240.00 C271.50,243.50 273.33,246.67 275.00,249.00 C276.67,251.33 278.33,252.83 280.00,254.00 C281.67,255.17 283.33,255.50 285.00,256.00 C286.67,256.50 288.17,256.50 290.00,257.00 C291.83,257.50 295.00,258.67 296.00,259.00 L296.00,265.50 C295.00,265.42 292.00,265.25 290.00,265.00 C288.00,264.75 286.00,264.33 284.00,264.00 C282.00,263.67 279.67,263.33 278.00,263.00 C276.33,262.67 275.33,262.33 274.00,262.00 C272.67,261.67 271.17,261.00 270.00,261.00 C268.83,261.00 268.00,261.67 267.00,262.00 C266.00,262.33 264.83,262.93 264.00,263.00 C263.17,263.07 262.67,263.07 262.00,262.40 C261.33,261.73 260.67,260.23 260.00,259.00 C259.33,257.77 258.67,256.00 258.00,255.00 C257.33,254.00 256.67,253.17 256.00,253.00 C255.33,252.83 254.67,253.50 254.00,254.00 C253.33,254.50 252.67,255.50 252.00,256.00 C251.33,256.50 250.67,257.00 250.00,257.00 C249.33,257.00 248.67,256.17 248.00,256.00 C247.33,255.83 246.67,255.67 246.00,256.00 C245.33,256.33 244.67,257.17 244.00,258.00 C243.33,258.83 242.67,260.00 242.00,261.00 C241.33,262.00 240.67,263.08 240.00,264.00 C239.33,264.92 238.67,265.77 238.00,266.50 C237.33,267.23 236.83,268.05 236.00,268.40 C235.17,268.75 233.50,268.57 233.00,268.60 Z" class="rb"/>
<path d="M240.00,268.60 C240.33,268.17 241.42,267.77 242.00,266.00 C242.58,264.23 243.00,262.33 243.50,258.00 C244.00,253.67 244.58,246.00 245.00,240.00 C245.42,234.00 245.67,227.00 246.00,222.00 C246.33,217.00 246.67,212.63 247.00,210.00 C247.33,207.37 247.43,207.10 248.00,206.20 C248.57,205.30 249.73,204.47 250.40,204.60 C251.07,204.73 251.47,205.67 252.00,207.00 C252.53,208.33 253.07,210.33 253.60,212.60 C254.13,214.87 254.63,218.70 255.20,220.60 C255.77,222.50 256.37,223.43 257.00,224.00 C257.63,224.57 258.17,224.33 259.00,224.00 C259.83,223.67 260.90,222.57 262.00,222.00 C263.10,221.43 264.73,220.30 265.60,220.60 C266.47,220.90 266.67,222.48 267.20,223.80 C267.73,225.12 268.27,226.92 268.80,228.50 C269.33,230.08 269.87,231.72 270.40,233.30 C270.93,234.88 271.32,236.78 272.00,238.00 C272.68,239.22 273.42,239.02 274.50,240.60 C275.58,242.18 277.08,245.02 278.50,247.50 C279.92,249.98 281.58,254.08 283.00,255.50 C284.42,256.92 285.83,256.08 287.00,256.00 C288.17,255.92 289.00,255.33 290.00,255.00 C291.00,254.67 292.00,253.67 293.00,254.00 C294.00,254.33 295.50,256.50 296.00,257.00 L296.00,265.00 C295.00,264.92 291.83,264.75 290.00,264.50 C288.17,264.25 286.67,263.92 285.00,263.50 C283.33,263.08 281.50,262.42 280.00,262.00 C278.50,261.58 277.33,261.33 276.00,261.00 C274.67,260.67 273.33,260.67 272.00,260.00 C270.67,259.33 269.17,257.33 268.00,257.00 C266.83,256.67 266.00,257.87 265.00,258.00 C264.00,258.13 262.83,258.47 262.00,257.80 C261.17,257.13 260.67,254.97 260.00,254.00 C259.33,253.03 258.67,252.33 258.00,252.00 C257.33,251.67 256.67,251.83 256.00,252.00 C255.33,252.17 254.67,252.00 254.00,253.00 C253.33,254.00 252.67,257.33 252.00,258.00 C251.33,258.67 250.67,256.93 250.00,257.00 C249.33,257.07 248.67,258.23 248.00,258.40 C247.33,258.57 246.67,257.40 246.00,258.00 C245.33,258.60 244.67,260.50 244.00,262.00 C243.33,263.50 242.67,265.90 242.00,267.00 C241.33,268.10 240.33,268.33 240.00,268.60 Z" class="bb"/>
<path d="M198.50,268.40 C201.25,268.38 210.58,268.35 215.00,268.30 C219.42,268.25 222.33,268.18 225.00,268.10 C227.67,268.02 229.38,267.93 231.00,267.80 C232.62,267.67 233.73,267.93 234.70,267.30 C235.67,266.67 236.12,265.50 236.80,264.00 C237.48,262.50 238.07,261.50 238.80,258.30 C239.53,255.10 240.40,248.38 241.20,244.80 C242.00,241.22 242.88,238.58 243.60,236.80 C244.32,235.02 244.70,234.10 245.50,234.10 C246.30,234.10 247.38,235.82 248.40,236.80 C249.42,237.78 250.58,239.52 251.60,240.00 C252.62,240.48 253.37,239.77 254.50,239.70 C255.63,239.63 257.15,239.17 258.40,239.60 C259.65,240.03 260.63,241.08 262.00,242.30 C263.37,243.52 264.92,245.23 266.60,246.90 C268.28,248.57 270.28,250.63 272.10,252.30 C273.92,253.97 275.68,255.53 277.50,256.90 C279.32,258.27 281.17,259.65 283.00,260.50 C284.83,261.35 286.33,261.53 288.50,262.00 C290.67,262.47 294.75,263.08 296.00,263.30" class="rl"/>
<path d="M198.50,268.65 C203.75,268.64 223.58,268.64 230.00,268.60 C236.42,268.56 235.33,268.75 237.00,268.40 C238.67,268.05 239.17,268.18 240.00,266.50 C240.83,264.82 241.27,262.05 242.00,258.30 C242.73,254.55 243.60,248.65 244.40,244.00 C245.20,239.35 245.92,233.73 246.80,230.40 C247.68,227.07 248.77,224.13 249.70,224.00 C250.63,223.87 251.60,227.18 252.40,229.60 C253.20,232.02 253.82,236.28 254.50,238.50 C255.18,240.72 255.83,241.98 256.50,242.90 C257.17,243.82 257.88,243.80 258.50,244.00 C259.12,244.20 259.30,244.23 260.20,244.10 C261.10,243.97 262.68,242.73 263.90,243.20 C265.12,243.67 266.13,245.68 267.50,246.90 C268.87,248.12 270.73,249.75 272.10,250.50 C273.47,251.25 274.48,250.48 275.70,251.40 C276.92,252.32 277.88,254.33 279.40,256.00 C280.92,257.67 283.28,260.18 284.80,261.40 C286.32,262.62 287.30,262.95 288.50,263.30 C289.70,263.65 290.75,263.58 292.00,263.50 C293.25,263.42 295.33,262.92 296.00,262.80" class="bl"/>
<line x1="257.60" y1="173.40" x2="257.60" y2="268.65" class="vb"/>
<line x1="242.10" y1="173.40" x2="242.10" y2="273.50" class="vm"/>
<path d="M339.50,266.50 C340.25,266.38 342.12,266.10 344.00,265.80 C345.88,265.50 348.80,264.75 350.80,264.70 C352.80,264.65 354.13,265.07 356.00,265.50 C357.87,265.93 359.50,266.97 362.00,267.30 C364.50,267.63 369.25,268.55 371.00,267.50 C372.75,266.45 372.08,263.08 372.50,261.00 C372.92,258.92 373.08,256.33 373.50,255.00 C373.92,253.67 374.25,253.45 375.00,253.00 C375.75,252.55 377.00,252.38 378.00,252.30 C379.00,252.22 380.00,252.05 381.00,252.50 C382.00,252.95 382.83,254.08 384.00,255.00 C385.17,255.92 386.67,257.08 388.00,258.00 C389.33,258.92 390.67,259.83 392.00,260.50 C393.33,261.17 394.67,261.58 396.00,262.00 C397.33,262.42 398.67,262.73 400.00,263.00 C401.33,263.27 402.33,263.33 404.00,263.60 C405.67,263.87 408.00,264.33 410.00,264.60 C412.00,264.87 413.23,265.00 416.00,265.20 C418.77,265.40 424.83,265.70 426.60,265.80 L426.60,267.00 C424.83,266.97 418.77,266.92 416.00,266.80 C413.23,266.68 412.00,266.52 410.00,266.30 C408.00,266.08 405.67,265.75 404.00,265.50 C402.33,265.25 401.33,265.05 400.00,264.80 C398.67,264.55 397.33,264.33 396.00,264.00 C394.67,263.67 393.33,263.33 392.00,262.80 C390.67,262.27 389.33,261.52 388.00,260.80 C386.67,260.08 385.17,259.05 384.00,258.50 C382.83,257.95 382.00,257.75 381.00,257.50 C380.00,257.25 379.00,256.92 378.00,257.00 C377.00,257.08 375.75,257.50 375.00,258.00 C374.25,258.50 373.92,259.00 373.50,260.00 C373.08,261.00 372.92,262.60 372.50,264.00 C372.08,265.40 372.75,267.67 371.00,268.40 C369.25,269.13 364.50,268.63 362.00,268.40 C359.50,268.17 357.87,267.28 356.00,267.00 C354.13,266.72 352.80,266.67 350.80,266.70 C348.80,266.73 345.88,267.07 344.00,267.20 C342.12,267.33 340.25,267.45 339.50,267.50 Z" class="rb"/>
<path d="M371.00,268.60 C371.22,267.50 371.88,264.43 372.30,262.00 C372.72,259.57 372.97,255.67 373.50,254.00 C374.03,252.33 374.75,252.50 375.50,252.00 C376.25,251.50 377.17,251.03 378.00,251.00 C378.83,250.97 379.73,251.47 380.50,251.80 C381.27,252.13 381.68,252.30 382.60,253.00 C383.52,253.70 384.93,255.08 386.00,256.00 C387.07,256.92 388.05,257.75 389.00,258.50 C389.95,259.25 390.53,259.92 391.70,260.50 C392.87,261.08 394.62,261.58 396.00,262.00 C397.38,262.42 398.68,262.73 400.00,263.00 C401.32,263.27 402.23,263.33 403.90,263.60 C405.57,263.87 407.98,264.32 410.00,264.60 C412.02,264.88 413.23,265.12 416.00,265.30 C418.77,265.48 424.83,265.63 426.60,265.70 L426.60,267.10 C424.83,267.07 418.77,267.05 416.00,266.90 C413.23,266.75 412.02,266.42 410.00,266.20 C407.98,265.98 405.57,265.80 403.90,265.60 C402.23,265.40 401.32,265.27 400.00,265.00 C398.68,264.73 397.38,264.30 396.00,264.00 C394.62,263.70 392.87,263.62 391.70,263.20 C390.53,262.78 389.95,262.03 389.00,261.50 C388.05,260.97 387.07,260.58 386.00,260.00 C384.93,259.42 383.52,258.37 382.60,258.00 C381.68,257.63 381.27,257.88 380.50,257.80 C379.73,257.72 378.83,257.47 378.00,257.50 C377.17,257.53 376.25,257.75 375.50,258.00 C374.75,258.25 374.03,257.67 373.50,259.00 C372.97,260.33 372.72,264.40 372.30,266.00 C371.88,267.60 371.22,268.17 371.00,268.60 Z" class="bb"/>
<path d="M329.40,268.30 C329.48,268.00 329.67,269.22 329.90,266.50 C330.13,263.78 330.48,257.08 330.80,252.00 C331.12,246.92 331.47,241.50 331.80,236.00 C332.13,230.50 332.47,224.67 332.80,219.00 C333.13,213.33 333.48,206.83 333.80,202.00 C334.12,197.17 334.45,192.50 334.70,190.00 C334.95,187.50 335.10,187.00 335.30,187.00 C335.50,187.00 335.65,187.17 335.90,190.00 C336.15,192.83 336.52,198.67 336.80,204.00 C337.08,209.33 337.33,215.50 337.60,222.00 C337.87,228.50 338.15,236.83 338.40,243.00 C338.65,249.17 338.87,255.12 339.10,259.00 C339.33,262.88 339.48,264.93 339.80,266.30 C340.12,267.67 340.30,267.17 341.00,267.20 C341.70,267.23 343.00,266.70 344.00,266.50 C345.00,266.30 345.87,266.13 347.00,266.00 C348.13,265.87 349.63,265.67 350.80,265.70 C351.97,265.73 352.80,265.90 354.00,266.20 C355.20,266.50 356.67,267.20 358.00,267.50 C359.33,267.80 360.33,267.88 362.00,268.00 C363.67,268.12 366.47,268.20 368.00,268.20 C369.53,268.20 370.45,269.03 371.20,268.00 C371.95,266.97 372.12,263.75 372.50,262.00 C372.88,260.25 373.08,258.58 373.50,257.50 C373.92,256.42 374.42,256.00 375.00,255.50 C375.58,255.00 376.33,254.70 377.00,254.50 C377.67,254.30 378.33,254.25 379.00,254.30 C379.67,254.35 380.33,254.52 381.00,254.80 C381.67,255.08 382.17,255.43 383.00,256.00 C383.83,256.57 385.00,257.53 386.00,258.20 C387.00,258.87 388.00,259.40 389.00,260.00 C390.00,260.60 390.83,261.30 392.00,261.80 C393.17,262.30 394.67,262.63 396.00,263.00 C397.33,263.37 398.67,263.73 400.00,264.00 C401.33,264.27 402.33,264.35 404.00,264.60 C405.67,264.85 408.00,265.27 410.00,265.50 C412.00,265.73 413.23,265.85 416.00,266.00 C418.77,266.15 424.83,266.33 426.60,266.40" class="rl"/>
<path d="M329.40,268.60 C329.83,268.58 331.23,268.67 332.00,268.50 C332.77,268.33 333.37,267.97 334.00,267.60 C334.63,267.23 335.22,266.27 335.80,266.30 C336.38,266.33 336.97,267.43 337.50,267.80 C338.03,268.17 337.75,268.37 339.00,268.50 C340.25,268.63 339.67,268.58 345.00,268.60 C350.33,268.62 366.45,269.37 371.00,268.60 C375.55,267.83 371.88,266.02 372.30,264.00 C372.72,261.98 372.97,258.00 373.50,256.50 C374.03,255.00 374.75,255.37 375.50,255.00 C376.25,254.63 377.17,254.33 378.00,254.30 C378.83,254.27 379.73,254.60 380.50,254.80 C381.27,255.00 381.68,254.97 382.60,255.50 C383.52,256.03 384.93,257.25 386.00,258.00 C387.07,258.75 388.05,259.35 389.00,260.00 C389.95,260.65 390.53,261.40 391.70,261.90 C392.87,262.40 394.62,262.65 396.00,263.00 C397.38,263.35 398.68,263.73 400.00,264.00 C401.32,264.27 402.23,264.37 403.90,264.60 C405.57,264.83 407.98,265.15 410.00,265.40 C412.02,265.65 413.23,265.93 416.00,266.10 C418.77,266.27 424.83,266.35 426.60,266.40" class="bl"/>
<line x1="335.40" y1="173.40" x2="335.40" y2="268.65" class="vb"/>
<line x1="372.70" y1="173.40" x2="372.70" y2="273.50" class="vm"/>
<rect x="62.00" y="21.40" width="97.50" height="105.10" class="sp"/>
<line x1="59.00" y1="121.50" x2="62.00" y2="121.50" class="tk"/>
<text transform="translate(56.80,126.20) scale(1,1.1)" class="tl" text-anchor="end">0.00</text>
<line x1="59.00" y1="106.60" x2="62.00" y2="106.60" class="tk"/>
<text transform="translate(56.80,111.30) scale(1,1.1)" class="tl" text-anchor="end">0.25</text>
<line x1="59.00" y1="91.70" x2="62.00" y2="91.70" class="tk"/>
<text transform="translate(56.80,96.40) scale(1,1.1)" class="tl" text-anchor="end">0.50</text>
<line x1="59.00" y1="76.80" x2="62.00" y2="76.80" class="tk"/>
<text transform="translate(56.80,81.50) scale(1,1.1)" class="tl" text-anchor="end">0.75</text>
<line x1="59.00" y1="61.90" x2="62.00" y2="61.90" class="tk"/>
<text transform="translate(56.80,66.60) scale(1,1.1)" class="tl" text-anchor="end">1.00</text>
<line x1="59.00" y1="47.00" x2="62.00" y2="47.00" class="tk"/>
<text transform="translate(56.80,51.70) scale(1,1.1)" class="tl" text-anchor="end">1.25</text>
<line x1="59.00" y1="32.10" x2="62.00" y2="32.10" class="tk"/>
<text transform="translate(56.80,36.80) scale(1,1.1)" class="tl" text-anchor="end">1.50</text>
<line x1="62.00" y1="126.50" x2="62.00" y2="129.10" class="tk"/>
<line x1="86.38" y1="126.50" x2="86.38" y2="129.10" class="tk"/>
<line x1="110.75" y1="126.50" x2="110.75" y2="129.10" class="tk"/>
<line x1="135.12" y1="126.50" x2="135.12" y2="129.10" class="tk"/>
<line x1="159.50" y1="126.50" x2="159.50" y2="129.10" class="tk"/>
<text transform="translate(62.30,18.80) scale(1,1.08)" class="tl">1e<tspan class="sup" dx="0.6" dy="-3.7">-4</tspan></text>
<text x="89.60" y="10.90" class="ti">B<tspan class="sub" dy="5.2">SS,LI,HM</tspan></text>
<rect x="200.00" y="21.40" width="97.50" height="105.10" class="sp"/>
<line x1="197.00" y1="121.50" x2="200.00" y2="121.50" class="tk"/>
<text transform="translate(194.80,126.20) scale(1,1.1)" class="tl" text-anchor="end">0.0</text>
<line x1="197.00" y1="97.60" x2="200.00" y2="97.60" class="tk"/>
<text transform="translate(194.80,102.30) scale(1,1.1)" class="tl" text-anchor="end">2.0</text>
<line x1="197.00" y1="73.70" x2="200.00" y2="73.70" class="tk"/>
<text transform="translate(194.80,78.40) scale(1,1.1)" class="tl" text-anchor="end">4.0</text>
<line x1="197.00" y1="49.80" x2="200.00" y2="49.80" class="tk"/>
<text transform="translate(194.80,54.50) scale(1,1.1)" class="tl" text-anchor="end">6.0</text>
<line x1="197.00" y1="25.90" x2="200.00" y2="25.90" class="tk"/>
<text transform="translate(194.80,30.60) scale(1,1.1)" class="tl" text-anchor="end">8.0</text>
<line x1="200.00" y1="126.50" x2="200.00" y2="129.10" class="tk"/>
<line x1="224.38" y1="126.50" x2="224.38" y2="129.10" class="tk"/>
<line x1="248.75" y1="126.50" x2="248.75" y2="129.10" class="tk"/>
<line x1="273.12" y1="126.50" x2="273.12" y2="129.10" class="tk"/>
<line x1="297.50" y1="126.50" x2="297.50" y2="129.10" class="tk"/>
<text transform="translate(200.30,18.80) scale(1,1.08)" class="tl">1e<tspan class="sup" dx="0.6" dy="-3.7">-5</tspan></text>
<text x="232.60" y="9.60" class="ti">B<tspan class="sub" dy="5.2">MS,MI,LM</tspan></text>
<rect x="329.60" y="21.40" width="97.20" height="105.10" class="sp"/>
<line x1="326.60" y1="121.50" x2="329.60" y2="121.50" class="tk"/>
<text transform="translate(324.40,126.20) scale(1,1.1)" class="tl" text-anchor="end">0.0</text>
<line x1="326.60" y1="105.60" x2="329.60" y2="105.60" class="tk"/>
<text transform="translate(324.40,110.30) scale(1,1.1)" class="tl" text-anchor="end">0.2</text>
<line x1="326.60" y1="89.70" x2="329.60" y2="89.70" class="tk"/>
<text transform="translate(324.40,94.40) scale(1,1.1)" class="tl" text-anchor="end">0.4</text>
<line x1="326.60" y1="73.80" x2="329.60" y2="73.80" class="tk"/>
<text transform="translate(324.40,78.50) scale(1,1.1)" class="tl" text-anchor="end">0.6</text>
<line x1="326.60" y1="57.90" x2="329.60" y2="57.90" class="tk"/>
<text transform="translate(324.40,62.60) scale(1,1.1)" class="tl" text-anchor="end">0.8</text>
<line x1="326.60" y1="42.00" x2="329.60" y2="42.00" class="tk"/>
<text transform="translate(324.40,46.70) scale(1,1.1)" class="tl" text-anchor="end">1.0</text>
<line x1="326.60" y1="26.10" x2="329.60" y2="26.10" class="tk"/>
<text transform="translate(324.40,30.80) scale(1,1.1)" class="tl" text-anchor="end">1.2</text>
<line x1="329.60" y1="126.50" x2="329.60" y2="129.10" class="tk"/>
<line x1="353.90" y1="126.50" x2="353.90" y2="129.10" class="tk"/>
<line x1="378.20" y1="126.50" x2="378.20" y2="129.10" class="tk"/>
<line x1="402.50" y1="126.50" x2="402.50" y2="129.10" class="tk"/>
<line x1="426.80" y1="126.50" x2="426.80" y2="129.10" class="tk"/>
<text transform="translate(329.90,18.80) scale(1,1.08)" class="tl">1e<tspan class="sup" dx="0.6" dy="-3.7">-5</tspan></text>
<text x="362.30" y="13.10" class="ti">B<tspan class="sub" dy="5.2">LS,HI,HM</tspan></text>
<rect x="63.60" y="168.40" width="97.40" height="105.10" class="sp"/>
<line x1="60.60" y1="268.65" x2="63.60" y2="268.65" class="tk"/>
<text transform="translate(58.40,273.35) scale(1,1.1)" class="tl" text-anchor="end">0.00</text>
<line x1="60.60" y1="255.05" x2="63.60" y2="255.05" class="tk"/>
<text transform="translate(58.40,259.75) scale(1,1.1)" class="tl" text-anchor="end">0.25</text>
<line x1="60.60" y1="241.45" x2="63.60" y2="241.45" class="tk"/>
<text transform="translate(58.40,246.15) scale(1,1.1)" class="tl" text-anchor="end">0.50</text>
<line x1="60.60" y1="227.85" x2="63.60" y2="227.85" class="tk"/>
<text transform="translate(58.40,232.55) scale(1,1.1)" class="tl" text-anchor="end">0.75</text>
<line x1="60.60" y1="214.25" x2="63.60" y2="214.25" class="tk"/>
<text transform="translate(58.40,218.95) scale(1,1.1)" class="tl" text-anchor="end">1.00</text>
<line x1="60.60" y1="200.65" x2="63.60" y2="200.65" class="tk"/>
<text transform="translate(58.40,205.35) scale(1,1.1)" class="tl" text-anchor="end">1.25</text>
<line x1="60.60" y1="187.05" x2="63.60" y2="187.05" class="tk"/>
<text transform="translate(58.40,191.75) scale(1,1.1)" class="tl" text-anchor="end">1.50</text>
<line x1="60.60" y1="173.45" x2="63.60" y2="173.45" class="tk"/>
<text transform="translate(58.40,178.15) scale(1,1.1)" class="tl" text-anchor="end">1.75</text>
<line x1="63.60" y1="273.50" x2="63.60" y2="276.10" class="tk"/>
<text transform="translate(63.00,287.90) scale(1,1.1)" class="tl" text-anchor="middle">0</text>
<line x1="87.95" y1="273.50" x2="87.95" y2="276.10" class="tk"/>
<text transform="translate(87.35,287.90) scale(1,1.1)" class="tl" text-anchor="middle">5</text>
<line x1="112.30" y1="273.50" x2="112.30" y2="276.10" class="tk"/>
<text transform="translate(111.30,287.90) scale(1,1.1)" class="tl" text-anchor="middle">10</text>
<line x1="136.65" y1="273.50" x2="136.65" y2="276.10" class="tk"/>
<text transform="translate(135.65,287.90) scale(1,1.1)" class="tl" text-anchor="middle">15</text>
<line x1="161.00" y1="273.50" x2="161.00" y2="276.10" class="tk"/>
<text transform="translate(160.00,287.90) scale(1,1.1)" class="tl" text-anchor="middle">20</text>
<text transform="translate(63.90,167.20) scale(1,1.08)" class="tl">1e<tspan class="sup" dx="0.6" dy="-3.7">-5</tspan></text>
<text x="88.20" y="156.80" class="ti">B<tspan class="sub" dy="5.2">SS,MI,LM</tspan></text>
<rect x="198.50" y="168.40" width="97.50" height="105.10" class="sp"/>
<line x1="195.50" y1="268.65" x2="198.50" y2="268.65" class="tk"/>
<text transform="translate(193.30,273.35) scale(1,1.1)" class="tl" text-anchor="end">0.0</text>
<line x1="195.50" y1="244.75" x2="198.50" y2="244.75" class="tk"/>
<text transform="translate(193.30,249.45) scale(1,1.1)" class="tl" text-anchor="end">0.5</text>
<line x1="195.50" y1="220.85" x2="198.50" y2="220.85" class="tk"/>
<text transform="translate(193.30,225.55) scale(1,1.1)" class="tl" text-anchor="end">1.0</text>
<line x1="195.50" y1="196.95" x2="198.50" y2="196.95" class="tk"/>
<text transform="translate(193.30,201.65) scale(1,1.1)" class="tl" text-anchor="end">1.5</text>
<line x1="195.50" y1="173.05" x2="198.50" y2="173.05" class="tk"/>
<text transform="translate(193.30,177.75) scale(1,1.1)" class="tl" text-anchor="end">2.0</text>
<line x1="198.50" y1="273.50" x2="198.50" y2="276.10" class="tk"/>
<text transform="translate(197.90,287.90) scale(1,1.1)" class="tl" text-anchor="middle">0</text>
<line x1="222.88" y1="273.50" x2="222.88" y2="276.10" class="tk"/>
<text transform="translate(222.28,287.90) scale(1,1.1)" class="tl" text-anchor="middle">5</text>
<line x1="247.25" y1="273.50" x2="247.25" y2="276.10" class="tk"/>
<text transform="translate(246.25,287.90) scale(1,1.1)" class="tl" text-anchor="middle">10</text>
<line x1="271.62" y1="273.50" x2="271.62" y2="276.10" class="tk"/>
<text transform="translate(270.62,287.90) scale(1,1.1)" class="tl" text-anchor="middle">15</text>
<line x1="296.00" y1="273.50" x2="296.00" y2="276.10" class="tk"/>
<text transform="translate(295.00,287.90) scale(1,1.1)" class="tl" text-anchor="middle">20</text>
<text transform="translate(198.80,167.20) scale(1,1.08)" class="tl">1e<tspan class="sup" dx="0.6" dy="-3.7">-5</tspan></text>
<text x="222.30" y="157.30" class="ti">B<tspan class="sub" dy="5.2">LS,LI,MM</tspan></text>
<text x="267.0" y="151.8" class="star">*</text>
<rect x="329.40" y="168.40" width="97.20" height="105.10" class="sp"/>
<line x1="326.40" y1="268.65" x2="329.40" y2="268.65" class="tk"/>
<text transform="translate(324.20,273.35) scale(1,1.1)" class="tl" text-anchor="end">0.0</text>
<line x1="326.40" y1="252.70" x2="329.40" y2="252.70" class="tk"/>
<text transform="translate(324.20,257.40) scale(1,1.1)" class="tl" text-anchor="end">1.0</text>
<line x1="326.40" y1="236.75" x2="329.40" y2="236.75" class="tk"/>
<text transform="translate(324.20,241.45) scale(1,1.1)" class="tl" text-anchor="end">2.0</text>
<line x1="326.40" y1="220.80" x2="329.40" y2="220.80" class="tk"/>
<text transform="translate(324.20,225.50) scale(1,1.1)" class="tl" text-anchor="end">3.0</text>
<line x1="326.40" y1="204.85" x2="329.40" y2="204.85" class="tk"/>
<text transform="translate(324.20,209.55) scale(1,1.1)" class="tl" text-anchor="end">4.0</text>
<line x1="326.40" y1="188.90" x2="329.40" y2="188.90" class="tk"/>
<text transform="translate(324.20,193.60) scale(1,1.1)" class="tl" text-anchor="end">5.0</text>
<line x1="326.40" y1="172.95" x2="329.40" y2="172.95" class="tk"/>
<text transform="translate(324.20,177.65) scale(1,1.1)" class="tl" text-anchor="end">6.0</text>
<line x1="329.40" y1="273.50" x2="329.40" y2="276.10" class="tk"/>
<text transform="translate(328.80,287.90) scale(1,1.1)" class="tl" text-anchor="middle">0</text>
<line x1="353.70" y1="273.50" x2="353.70" y2="276.10" class="tk"/>
<text transform="translate(353.10,287.90) scale(1,1.1)" class="tl" text-anchor="middle">5</text>
<line x1="378.00" y1="273.50" x2="378.00" y2="276.10" class="tk"/>
<text transform="translate(377.00,287.90) scale(1,1.1)" class="tl" text-anchor="middle">10</text>
<line x1="402.30" y1="273.50" x2="402.30" y2="276.10" class="tk"/>
<text transform="translate(401.30,287.90) scale(1,1.1)" class="tl" text-anchor="middle">15</text>
<line x1="426.60" y1="273.50" x2="426.60" y2="276.10" class="tk"/>
<text transform="translate(425.60,287.90) scale(1,1.1)" class="tl" text-anchor="middle">20</text>
<text transform="translate(329.70,167.20) scale(1,1.08)" class="tl">1e<tspan class="sup" dx="0.6" dy="-3.7">-5</tspan></text>
<text x="356.00" y="160.30" class="ti">B<tspan class="sub" dy="5.2">LS,MI,MM</tspan></text>
<text transform="translate(13.7,216.3) rotate(-90)" style="font-size:19.5px">PSD Amplitude</text>
<text x="186.4" y="308.6" style="font-size:19.2px">Frequency (Hz)</text>
<rect x="436.5" y="95" width="247.5" height="125.2" rx="4" ry="4" fill="#fff" stroke="#dedede" stroke-width="1"/>
<line x1="440.6" y1="103.6" x2="464.4" y2="103.6" stroke="#e05a5a" stroke-width="1"/>
<text x="474.3" y="110.6" style="font-size:18px">T.SEDAN.9-L.TRUCK.13.4</text>
<line x1="440.6" y1="130.6" x2="464.4" y2="130.6" stroke="#6868cc" stroke-width="1"/>
<text x="473.5" y="135.9" style="font-size:18px">SEDAN.9</text>
<line x1="439.9" y1="160.6" x2="464.2" y2="160.6" stroke="#333" stroke-width="1.3" stroke-dasharray="6.6 2.1"/>
<g><path d="M486.2,152.9 C485.9,150.9 483.6,150.6 482.6,152.8 C481.6,155 479.4,161 477.8,165 C476.9,167.3 475.6,168.3 474.1,167.1" fill="none" stroke="#000" stroke-width="1.25" stroke-linecap="round"/><path d="M478.4,156.3 L483.6,156.3" stroke="#000" stroke-width="0.9"/><circle cx="485.7" cy="152.6" r="0.8"/><circle cx="474.6" cy="166.8" r="0.8"/></g>
<text x="481.6" y="170.0" style="font-size:10.5px;font-style:italic">b</text>
<path d="M439.9,191.2 h6.6 M448.4,191.2 h2.3 M455,191.2 h3.5 M459.2,191.2 h5.6" stroke="#d010d0" stroke-width="1.3" fill="none"/>
<g transform="translate(-3.1,30.1)"><path d="M486.2,152.9 C485.9,150.9 483.6,150.6 482.6,152.8 C481.6,155 479.4,161 477.8,165 C476.9,167.3 475.6,168.3 474.1,167.1" fill="none" stroke="#000" stroke-width="1.25" stroke-linecap="round"/><path d="M478.4,156.3 L483.6,156.3" stroke="#000" stroke-width="0.9"/><circle cx="485.7" cy="152.6" r="0.8"/><circle cx="474.6" cy="166.8" r="0.8"/></g>
<text x="479.3" y="200.8" style="font-size:10.5px;font-style:italic">vel</text>
</svg></body></html>
